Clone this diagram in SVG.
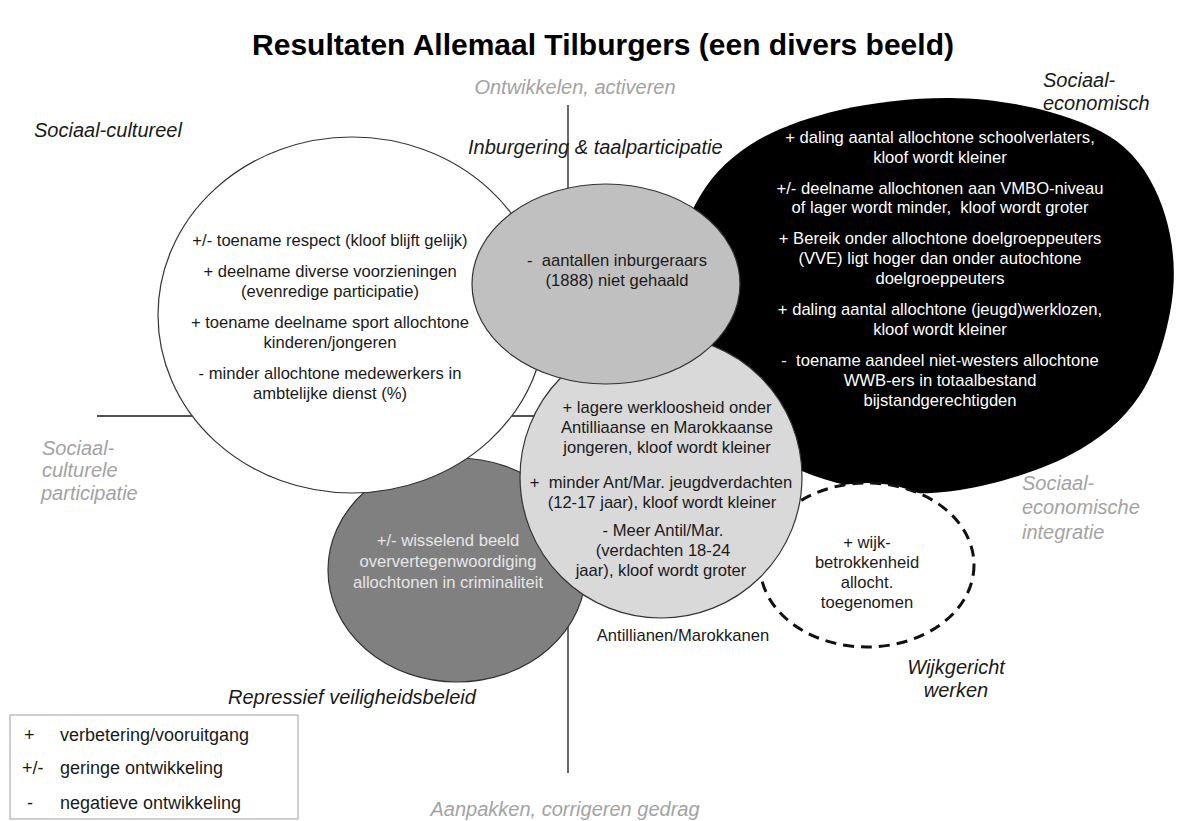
<svg xmlns="http://www.w3.org/2000/svg" width="1177" height="821" viewBox="0 0 1177 821">
<style>
text{font-family:"Liberation Sans",Arial,sans-serif}
.t{font-size:16.6px;text-anchor:middle;fill:#1a1a1a}
.wt{fill:#ffffff}
.lt{fill:#e6e6e6}
.lab{font-size:20px;font-style:italic;fill:#1a1a1a}
.gl{font-size:20px;font-style:italic;fill:#a3a3a3}
.ax{stroke:#1a1a1a;stroke-width:1.3;fill:none}
.ol{stroke:#333333;stroke-width:1.2}
.leg{font-size:18px;fill:#1a1a1a}
</style>
<rect width="1177" height="821" fill="#ffffff"/>
<text x="603" y="55" text-anchor="middle" font-size="30" font-weight="bold" fill="#000">Resultaten Allemaal Tilburgers (een divers beeld)</text>

<g id="connectors">
<line class="ax" x1="568" y1="105" x2="568" y2="773"/>
<line class="ax" x1="97" y1="416" x2="800" y2="416"/>
</g>

<g id="sociaal-economisch">
<path fill="#000" d="M670,300 C669.2,269.2 681.7,230.8 695,205 C708.3,179.2 725.8,160.8 750,145 C774.2,129.2 806.7,117.8 840,110 C873.3,102.2 915,97.7 950,98 C985,98.3 1020.8,103.7 1050,112 C1079.2,120.3 1105.8,130.8 1125,148 C1144.2,165.2 1157.2,189.7 1165,215 C1172.8,240.3 1176.2,270 1172,300 C1167.8,330 1157,369.2 1140,395 C1123,420.8 1100,439.2 1070,455 C1040,470.8 995,484.5 960,490 C925,495.5 891.7,493.8 860,488 C828.3,482.2 796.7,471.3 770,455 C743.3,438.7 716.7,415.8 700,390 C683.3,364.2 670.8,330.8 670,300 Z"/>
<text class="t wt" x="940" y="143">+ daling aantal allochtone schoolverlaters,</text>
<text class="t wt" x="940" y="163">kloof wordt kleiner</text>
<text class="t wt" x="940" y="194">+/- deelname allochtonen aan VMBO-niveau</text>
<text class="t wt" x="940" y="213" xml:space="preserve">of lager wordt minder,  kloof wordt groter</text>
<text class="t wt" x="940" y="244">+ Bereik onder allochtone doelgroeppeuters</text>
<text class="t wt" x="940" y="264">(VVE) ligt hoger dan onder autochtone</text>
<text class="t wt" x="940" y="284">doelgroeppeuters</text>
<text class="t wt" x="940" y="315">+ daling aantal allochtone (jeugd)werklozen,</text>
<text class="t wt" x="940" y="335">kloof wordt kleiner</text>
<text class="t wt" x="940" y="366" xml:space="preserve">-  toename aandeel niet-westers allochtone</text>
<text class="t wt" x="940" y="386">WWB-ers in totaalbestand</text>
<text class="t wt" x="940" y="406">bijstandgerechtigden</text>
</g>

<g id="wijkgericht">
<ellipse cx="867" cy="565" rx="107" ry="82" fill="#fff" stroke="#111" stroke-width="3" stroke-dasharray="11 7"/>
<text class="t" x="867" y="548">+ wijk-</text>
<text class="t" x="867" y="568">betrokkenheid</text>
<text class="t" x="867" y="588">allocht.</text>
<text class="t" x="867" y="608">toegenomen</text>
</g>

<g id="repressief">
<ellipse class="ol" cx="457" cy="570" rx="129" ry="112" fill="#808080"/>
<text class="t lt" x="448" y="546">+/- wisselend beeld</text>
<text class="t lt" x="448" y="567">oververtegenwoordiging</text>
<text class="t lt" x="448" y="588">allochtonen in criminaliteit</text>
</g>

<g id="sociaal-cultureel">
<ellipse class="ol" cx="352" cy="315" rx="194" ry="178" fill="#fff"/>
<text class="t" x="330" y="246">+/- toename respect (kloof blijft gelijk)</text>
<text class="t" x="330" y="277">+ deelname diverse voorzieningen</text>
<text class="t" x="330" y="297">(evenredige participatie)</text>
<text class="t" x="330" y="328">+ toename deelname sport allochtone</text>
<text class="t" x="330" y="348">kinderen/jongeren</text>
<text class="t" x="330" y="379">- minder allochtone medewerkers in</text>
<text class="t" x="330" y="399">ambtelijke dienst (%)</text>
</g>

<g id="antillianen-marokkanen">
<circle class="ol" cx="661" cy="477" r="141" fill="#d9d9d9"/>
<text class="t" x="667" y="413">+ lagere werkloosheid onder</text>
<text class="t" x="667" y="433">Antilliaanse en Marokkaanse</text>
<text class="t" x="667" y="453">jongeren, kloof wordt kleiner</text>
<text class="t" x="661" y="488" xml:space="preserve">+  minder Ant/Mar. jeugdverdachten</text>
<text class="t" x="662" y="508">(12-17 jaar), kloof wordt kleiner</text>
<text class="t" x="663" y="536">- Meer Antil/Mar.</text>
<text class="t" x="663" y="556">(verdachten 18-24</text>
<text class="t" x="661" y="576">jaar), kloof wordt groter</text>
<text class="t" x="683" y="641">Antillianen/Marokkanen</text>
</g>

<g id="inburgering">
<ellipse class="ol" cx="606" cy="284" rx="134" ry="100" fill="#c0c0c0"/>
<text class="t" x="617" y="266" xml:space="preserve">-  aantallen inburgeraars</text>
<text class="t" x="617" y="286">(1888) niet gehaald</text>
</g>

<g id="labels">
<text class="lab" x="1043" y="87">Sociaal-</text>
<text class="lab" x="1043" y="110">economisch</text>
<text class="gl" x="575" y="94" text-anchor="middle">Ontwikkelen, activeren</text>
<text class="lab" x="34" y="137">Sociaal-cultureel</text>
<text class="lab" x="468" y="154">Inburgering &amp; taalparticipatie</text>
<text class="gl" x="42" y="455">Sociaal-</text>
<text class="gl" x="42" y="477">culturele</text>
<text class="gl" x="41" y="500">participatie</text>
<text class="gl" x="1022" y="490">Sociaal-</text>
<text class="gl" x="1022" y="514">economische</text>
<text class="gl" x="1022" y="539">integratie</text>
<text class="lab" x="956" y="674" text-anchor="middle">Wijkgericht</text>
<text class="lab" x="956" y="697" text-anchor="middle">werken</text>
<text class="lab" x="228" y="704">Repressief veiligheidsbeleid</text>
<text class="gl" x="565" y="816" text-anchor="middle">Aanpakken, corrigeren gedrag</text>
</g>

<g id="legend">
<rect x="10" y="715" width="288" height="104" fill="#fff" stroke="#a0a0a0" stroke-width="1"/>
<text class="leg" x="24" y="741">+</text>
<text class="leg" x="60" y="741">verbetering/vooruitgang</text>
<text class="leg" x="22" y="774">+/-</text>
<text class="leg" x="60" y="774">geringe ontwikkeling</text>
<text class="leg" x="27" y="809">-</text>
<text class="leg" x="60" y="809">negatieve ontwikkeling</text>
</g>
</svg>
